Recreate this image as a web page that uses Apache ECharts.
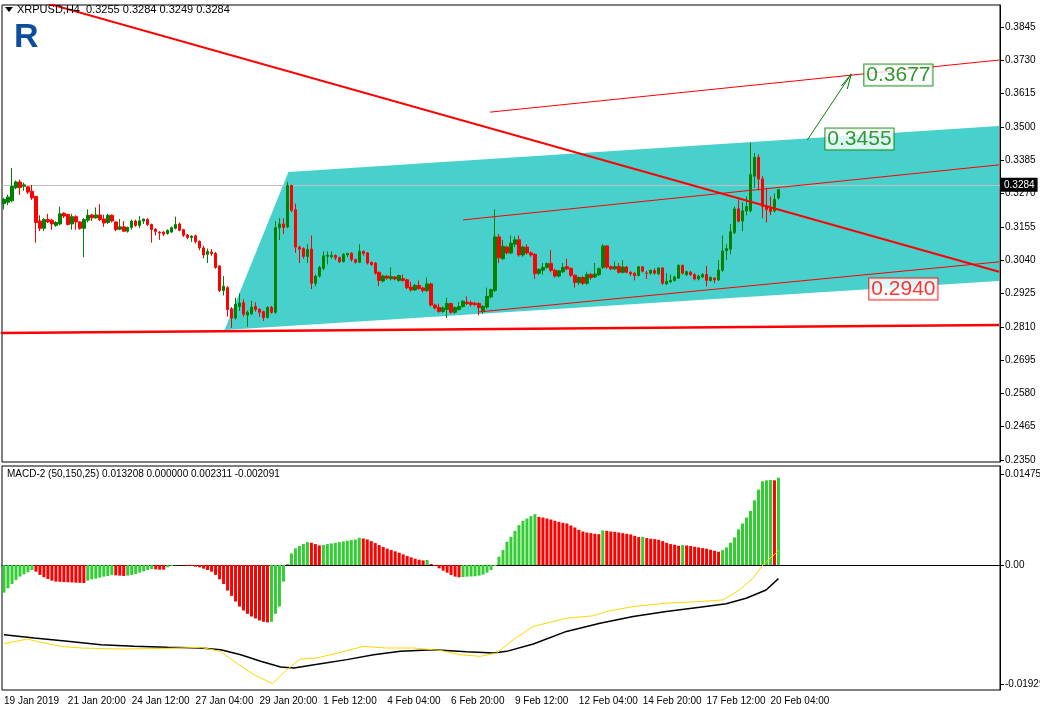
<!DOCTYPE html>
<html>
<head>
<meta charset="utf-8">
<script src="https://cdn.jsdelivr.net/npm/echarts@6/dist/echarts.min.js"></script>
<style>
  html, body { margin: 0; padding: 0; background: #fff; }
  #chart { width: 1040px; height: 716px; }
</style>
</head>
<body>
<div id="chart"></div>
<script>
// H4 candles, [open, close, low, high]
const candles = [
  [0.3235,0.3250,0.3215,0.3255],[0.3240,0.3258,0.3230,0.3266],[0.3245,0.3295,0.3240,0.3358],[0.3290,0.3310,0.3285,0.3315],
  [0.3310,0.3290,0.3265,0.3318],[0.3295,0.3300,0.3280,0.3308],[0.3293,0.3275,0.3268,0.3296],[0.3278,0.3255,0.3248,0.3300],
  [0.3260,0.3170,0.3100,0.3262],[0.3175,0.3150,0.3140,0.3195],[0.3150,0.3180,0.3140,0.3185],[0.3180,0.3172,0.3168,0.3200],
  [0.3178,0.3165,0.3145,0.3183],[0.3160,0.3170,0.3155,0.3175],[0.3165,0.3200,0.3160,0.3225],[0.3202,0.3192,0.3185,0.3205],
  [0.3198,0.3163,0.3160,0.3200],[0.3165,0.3190,0.3145,0.3200],[0.3190,0.3172,0.3145,0.3195],[0.3172,0.3150,0.3145,0.3175],
  [0.3150,0.3180,0.3050,0.3185],[0.3178,0.3195,0.3170,0.3215],[0.3196,0.3186,0.3175,0.3200],[0.3186,0.3196,0.3183,0.3222],
  [0.3196,0.3180,0.3175,0.3233],[0.3182,0.3168,0.3155,0.3197],[0.3170,0.3195,0.3165,0.3200],[0.3195,0.3175,0.3170,0.3198],
  [0.3172,0.3146,0.3140,0.3174],[0.3147,0.3155,0.3143,0.3182],[0.3155,0.3140,0.3138,0.3175],[0.3140,0.3153,0.3135,0.3156],
  [0.3153,0.3175,0.3145,0.3180],[0.3175,0.3160,0.3155,0.3180],[0.3160,0.3176,0.3150,0.3192],[0.3175,0.3182,0.3165,0.3183],
  [0.3180,0.3163,0.3158,0.3185],[0.3163,0.3146,0.3100,0.3166],[0.3147,0.3139,0.3125,0.3150],[0.3137,0.3134,0.3110,0.3140],
  [0.3137,0.3130,0.3123,0.3140],[0.3132,0.3143,0.3128,0.3146],[0.3137,0.3152,0.3134,0.3156],[0.3150,0.3163,0.3146,0.3190],
  [0.3165,0.3143,0.3140,0.3170],[0.3145,0.3126,0.3120,0.3148],[0.3127,0.3118,0.3112,0.3130],[0.3118,0.3123,0.3103,0.3126],
  [0.3124,0.3104,0.3098,0.3128],[0.3105,0.3083,0.3074,0.3108],[0.3082,0.3058,0.3046,0.3090],[0.3060,0.3070,0.3030,0.3080],
  [0.3068,0.3062,0.3055,0.3078],[0.3063,0.3015,0.3010,0.3068],[0.3020,0.2935,0.2930,0.3022],[0.2935,0.2950,0.2918,0.2985],
  [0.2945,0.2870,0.2845,0.2950],[0.2872,0.2840,0.2806,0.2878],[0.2840,0.2888,0.2835,0.2910],[0.2880,0.2892,0.2865,0.2925],
  [0.2893,0.2853,0.2845,0.2905],[0.2850,0.2860,0.2810,0.2866],[0.2855,0.2878,0.2850,0.2900],[0.2880,0.2870,0.2862,0.2895],
  [0.2870,0.2860,0.2845,0.2874],[0.2862,0.2842,0.2830,0.2866],[0.2842,0.2877,0.2838,0.2880],[0.2877,0.2860,0.2855,0.2882],
  [0.2860,0.3152,0.2855,0.3175],[0.3152,0.3165,0.3110,0.3185],[0.3165,0.3153,0.3130,0.3185],[0.3155,0.3298,0.3150,0.3310],
  [0.3298,0.3212,0.3205,0.3300],[0.3214,0.3085,0.3065,0.3235],[0.3085,0.3078,0.3030,0.3090],[0.3080,0.3053,0.3045,0.3084],
  [0.3053,0.3077,0.3030,0.3095],[0.3078,0.2960,0.2940,0.3125],[0.2960,0.2985,0.2950,0.2990],[0.2985,0.3015,0.2980,0.3020],
  [0.3012,0.3055,0.3005,0.3070],[0.3053,0.3057,0.3025,0.3070],[0.3052,0.3057,0.3045,0.3070],[0.3056,0.3048,0.3040,0.3060],
  [0.3048,0.3035,0.3030,0.3052],[0.3035,0.3060,0.3032,0.3064],[0.3058,0.3063,0.3050,0.3066],[0.3064,0.3042,0.3035,0.3067],
  [0.3042,0.3033,0.3028,0.3045],[0.3033,0.3070,0.3030,0.3095],[0.3070,0.3063,0.3055,0.3074],[0.3065,0.3030,0.3025,0.3068],
  [0.3032,0.3025,0.3020,0.3036],[0.3030,0.2995,0.2990,0.3033],[0.2998,0.2970,0.2950,0.3000],[0.2968,0.2985,0.2963,0.2990],
  [0.2985,0.2978,0.2972,0.2988],[0.2976,0.2983,0.2970,0.3015],[0.2982,0.2975,0.2970,0.2985],[0.2970,0.2987,0.2966,0.2990],
  [0.2976,0.2970,0.2966,0.2990],[0.2972,0.2945,0.2940,0.2975],[0.2947,0.2937,0.2932,0.2965],[0.2937,0.2953,0.2934,0.2958],
  [0.2953,0.2942,0.2938,0.2970],[0.2944,0.2935,0.2928,0.2948],[0.2935,0.2958,0.2930,0.2980],[0.2958,0.2885,0.2880,0.2962],
  [0.2885,0.2875,0.2870,0.2890],[0.2877,0.2863,0.2858,0.2890],[0.2863,0.2875,0.2858,0.2880],[0.2870,0.2890,0.2840,0.2910],
  [0.2890,0.2860,0.2855,0.2893],[0.2860,0.2876,0.2855,0.2880],[0.2870,0.2880,0.2866,0.2895],[0.2880,0.2898,0.2876,0.2902],
  [0.2895,0.2890,0.2885,0.2915],[0.2893,0.2887,0.2880,0.2900],[0.2891,0.2887,0.2882,0.2896],[0.2890,0.2876,0.2850,0.2895],
  [0.2862,0.2880,0.2855,0.2885],[0.2878,0.2915,0.2872,0.2945],[0.2913,0.2938,0.2908,0.2942],[0.2935,0.3120,0.2930,0.3215],
  [0.3120,0.3048,0.3030,0.3130],[0.3045,0.3088,0.3040,0.3110],[0.3085,0.3065,0.3060,0.3090],[0.3065,0.3098,0.3060,0.3125],
  [0.3095,0.3110,0.3085,0.3122],[0.3110,0.3058,0.3052,0.3125],[0.3058,0.3085,0.3052,0.3090],[0.3085,0.3065,0.3060,0.3095],
  [0.3065,0.3058,0.3052,0.3070],[0.3060,0.2993,0.2975,0.3063],[0.2995,0.3008,0.2988,0.3012],[0.3005,0.3015,0.2990,0.3030],
  [0.3015,0.3028,0.3010,0.3032],[0.3028,0.3005,0.2998,0.3075],[0.3005,0.2985,0.2980,0.3010],[0.2985,0.3003,0.2980,0.3006],
  [0.3000,0.3015,0.2996,0.3030],[0.3018,0.3010,0.3005,0.3045],[0.3012,0.2988,0.2982,0.3015],[0.2988,0.2963,0.2945,0.2990],
  [0.2962,0.2980,0.2955,0.2984],[0.2980,0.2960,0.2954,0.2985],[0.2960,0.2990,0.2955,0.3000],[0.2990,0.2980,0.2972,0.2996],
  [0.2982,0.2992,0.2978,0.3030],[0.2990,0.3010,0.2985,0.3015],[0.3015,0.3089,0.3010,0.3095],[0.3089,0.3016,0.3010,0.3092],
  [0.3017,0.3010,0.3005,0.3022],[0.3010,0.3018,0.3005,0.3035],[0.3018,0.2998,0.2994,0.3030],[0.2998,0.3016,0.2994,0.3040],
  [0.3016,0.2998,0.2994,0.3020],[0.2998,0.2993,0.2985,0.3002],[0.2995,0.2987,0.2970,0.2998],[0.2987,0.3017,0.2984,0.3020],
  [0.3017,0.3002,0.2998,0.3020],[0.2995,0.2995,0.2975,0.3003],[0.2995,0.3005,0.2990,0.3008],[0.3004,0.2995,0.2990,0.3012],
  [0.2993,0.3013,0.2988,0.3015],[0.3013,0.2960,0.2955,0.3016],[0.2958,0.2967,0.2954,0.2995],[0.2965,0.2970,0.2960,0.2990],
  [0.2970,0.2982,0.2966,0.2986],[0.2978,0.3022,0.2975,0.3025],[0.3022,0.2995,0.2990,0.3024],[0.2990,0.3000,0.2985,0.3004],
  [0.2998,0.2990,0.2986,0.3003],[0.2990,0.2975,0.2970,0.2995],[0.2975,0.2985,0.2970,0.2990],[0.2982,0.2990,0.2978,0.2995],
  [0.2990,0.2970,0.2950,0.3020],[0.2970,0.2980,0.2966,0.2984],[0.2978,0.2972,0.2960,0.2981],[0.2972,0.3005,0.2968,0.3040],
  [0.3005,0.3072,0.3000,0.3125],[0.3072,0.3080,0.3040,0.3095],[0.3078,0.3138,0.3060,0.3165],[0.3135,0.3217,0.3130,0.3225],
  [0.3217,0.3175,0.3170,0.3250],[0.3175,0.3210,0.3140,0.3240],[0.3210,0.3225,0.3195,0.3260],[0.3210,0.3335,0.3205,0.3445],
  [0.3330,0.3395,0.3290,0.3410],[0.3395,0.3320,0.3280,0.3405],[0.3320,0.3225,0.3185,0.3330],[0.3225,0.3215,0.3170,0.3290],
  [0.3222,0.3208,0.3195,0.3260],[0.3210,0.3250,0.3205,0.3270],[0.3255,0.3284,0.3249,0.3284]
];

// MACD histogram, in units of 0.0001
const macdHistE4 = [
  -44.7,-37.7,-30.7,-24.2,-18.8,-15.1,-11.8,-8.1,-10.8,-16.1,-19.9,-22.6,-25.3,-26.9,-27.3,-27.6,
  -27.9,-28.3,-28.6,-28.9,-29.2,-25.3,-23.1,-22.1,-20.4,-18.8,-17.8,-16.1,-16.7,-17.2,-17.8,-17.2,
  -16.1,-14.5,-12.4,-10.2,-8.1,-6.5,-7.0,-7.5,-7.6,-3.8,-1.6,-0.5,-0.3,-0.9,-1.0,-1.6,
  -2.7,-3.8,-5.9,-8.1,-10.8,-16.1,-23.1,-30.7,-41.4,-50.0,-59.2,-67.3,-73.7,-79.1,-83.4,-86.6,
  -89.8,-92.0,-93.0,-92.0,-79.1,-67.3,-26.9,1.6,18.8,26.9,30.7,33.9,37.1,36.0,33.9,31.7,
  32.3,33.9,35.0,36.0,37.1,38.2,39.3,40.4,41.4,44.1,43.0,41.4,38.7,35.5,32.3,29.1,
  26.4,24.2,22.1,19.9,17.2,14.5,12.4,10.2,8.6,7.5,8.1,1.6,-1.6,-5.4,-9.1,-12.4,
  -16.1,-18.8,-19.9,-19.4,-18.8,-18.6,-18.3,-17.2,-15.6,-12.4,-8.1,-1.6,13.5,24.2,37.7,45.7,
  55.4,64.6,71.6,75.3,79.1,82.3,78.0,76.9,75.3,73.7,71.6,69.9,68.3,67.3,64.0,60.8,
  57.0,54.3,52.7,51.6,50.6,50.0,56.0,55.4,54.3,53.8,52.7,51.6,50.6,49.5,47.3,45.2,
  45.7,43.6,42.5,41.9,40.9,38.7,36.0,33.9,32.8,31.2,32.3,31.7,30.7,29.6,28.5,27.4,
  26.4,24.7,23.1,21.5,24.2,28.5,36.0,44.7,57.6,67.3,76.9,87.7,104.9,122.1,135.6,137.2,
  137.7,137.2,141.5
];

// MACD lines read at sample candles: [candle index, value in 0.0001]
const macdMain = [
  [0,-113.0],[7.6,-118.4],[15.9,-123.7],[24.3,-129.1],[32.6,-131.8],[40.9,-133.4],[49.3,-134.5],[54.3,-137.2],
  [59.3,-145.3],[64.3,-156.0],[69.3,-165.2],[72.6,-166.8],[79.3,-159.8],[85.9,-153.3],[92.6,-145.3],[99.3,-139.9],
  [107.6,-137.2],[115.9,-140.4],[122.6,-142.6],[125.9,-139.9],[132.6,-128.0],[140.9,-107.6],[149.3,-94.2],[157.6,-83.4],
  [165.9,-75.3],[174.3,-68.3],[180.9,-62.9],[185.9,-53.8],[190.9,-40.4],[194,-22]
];
const macdSignal = [
  [0,-127.5],[5.9,-120.0],[9.25,-125.4],[14.25,-131.8],[19.25,-134.5],[29.25,-136.1],[40.9,-135.0],[49.25,-133.4],
  [54.25,-139.9],[57.6,-156.0],[62.6,-177.5],[67.25,-192.1],[70.9,-169.5],[74.25,-152.3],[78.4,-150.6],[84.25,-141.5],
  [90.1,-131.8],[95.9,-134.5],[102.6,-134.5],[109.25,-138.3],[114.25,-145.3],[119.25,-148.0],[123.4,-142.6],[127.6,-121.1],
  [132.6,-99.5],[140.9,-86.1],[147.6,-82.3],[150.9,-75.3],[157.6,-67.3],[165.9,-61.9],[174.25,-59.2],[180.1,-56.5],
  [184.25,-40.4],[187.6,-21.5],[190.1,0],[194,23.1]
];

const slotCount = 250;
const tickLabels = ['19 Jan 2019','21 Jan 20:00','24 Jan 12:00','27 Jan 04:00','29 Jan 20:00','1 Feb 12:00',
  '4 Feb 04:00','6 Feb 20:00','9 Feb 12:00','12 Feb 04:00','14 Feb 20:00','17 Feb 12:00','20 Feb 04:00'];
const priceTicks = [0.3845,0.3730,0.3615,0.3500,0.3385,0.3270,0.3155,0.3040,0.2925,0.2810,0.2695,0.2580,0.2465,0.2350];
const macdTicks = [0.014756, 0, -0.019294];
const macdTickText = ['0.014756', '0.00', '-0.01929'];
const lastPrice = 0.3284;

// drawn objects: [candle index, price]
const channel = [[55.25,0.2799],[71.25,0.3344],[249.25,0.3503],[249.25,0.2968]];
const downTrend = [[10.5,0.3928],[249.25,0.3000]];
const support = [[-0.75,0.2788],[249.25,0.2816]];
const upperLine = [[121.75,0.3551],[249.25,0.3731]];
const midLine = [[115,0.3179],[249.25,0.3369]];
const lowerLine = [[118.75,0.2861],[249.25,0.3034]];
const arrowLine = [[201.25,0.3455],[212.25,0.3683]];
const arrowHead = [[209.75,0.3641],[212.25,0.3683],[211.25,0.3631]];
const levelTags = [
  {value:[215.5,0.3679], name:'0.3677', color:'#008000'},
  {value:[205.75,0.3458], name:'0.3455', color:'#008000'},
  {value:[216.75,0.2940], name:'0.2940', color:'#ff0000'}
];

const categories = [];
for (let i = 0; i < slotCount; i++) categories.push(i % 16 === 0 && tickLabels[i / 16] ? tickLabels[i / 16] : '');

const histData = macdHistE4.map((v, i) => ({
  value: v / 10000,
  itemStyle: { color: i === 0 || v >= macdHistE4[i - 1] ? '#32cd32' : '#ff0000' }
}));
const toE4 = arr => arr.map(p => [p[0], p[1] / 10000]);

const font = 'Liberation Sans, Arial, sans-serif';
const redLine = (data, width) => ({
  type: 'line', xAxisIndex: 1, yAxisIndex: 0, data, symbol: 'none', z: 4, silent: true,
  lineStyle: { color: '#ff0000', width }
});

const chart = echarts.init(document.getElementById('chart'));
chart.setOption({
  animation: false,
  backgroundColor: '#fff',
  grid: [
    { left: 2, right: 40, top: 5, height: 457, show: true, borderColor: '#000', borderWidth: 1, outerBoundsMode: 'none' },
    { left: 2, right: 40, top: 466, bottom: 26, show: true, borderColor: '#000', borderWidth: 1, outerBoundsMode: 'none' }
  ],
  xAxis: [
    { type: 'category', gridIndex: 0, data: categories, axisLine: { show: false }, axisTick: { show: false }, axisLabel: { show: false } },
    { type: 'value', gridIndex: 0, min: -0.5, max: slotCount - 0.5, show: false },
    { type: 'category', gridIndex: 1, data: categories, axisLine: { lineStyle: { color: '#000' } },
      axisTick: { alignWithLabel: true, interval: i => i % 16 === 0, length: 4, lineStyle: { color: '#000' } },
      axisLabel: { interval: 0, align: 'left', margin: 6, color: '#000', fontSize: 10, fontFamily: font } },
    { type: 'value', gridIndex: 1, min: -0.5, max: slotCount - 0.5, show: false }
  ],
  yAxis: [
    { type: 'value', gridIndex: 0, position: 'right', min: 0.2343, max: 0.3921, splitLine: { show: false },
      axisLine: { show: true, onZero: false, lineStyle: { color: '#000' } },
      axisTick: { show: true, customValues: priceTicks, length: 4, lineStyle: { color: '#000' } },
      axisLabel: { customValues: priceTicks, formatter: v => v.toFixed(4), color: '#000', fontSize: 10, fontFamily: font, margin: 5 } },
    { type: 'value', gridIndex: 1, position: 'right', min: -0.02025, max: 0.01604, splitLine: { show: false },
      axisLine: { show: true, onZero: false, lineStyle: { color: '#000' } },
      axisTick: { show: true, customValues: macdTicks, length: 4, lineStyle: { color: '#000' } },
      axisLabel: { customValues: macdTicks, formatter: v => macdTickText[macdTicks.findIndex(t => Math.abs(t - v) < 1e-7)] || '',
        color: '#000', fontSize: 10, fontFamily: font, margin: 5 } }
  ],
  graphic: [
    { type: 'polygon', shape: { points: [[5, 7], [13, 7], [9, 12]] }, style: { fill: '#000' }, z: 10 },
    { type: 'text', left: 17, top: 4, z: 10, style: { text: 'XRPUSD,H4  0.3255 0.3284 0.3249 0.3284', fill: '#000', font: '11px ' + font } },
    { type: 'text', left: 14, top: 21, z: 10, style: { text: 'R', fill: '#0d4e9c', font: 'bold 34px ' + font } },
    { type: 'text', left: 7, top: 469, z: 10, style: { text: 'MACD-2 (50,150,25) 0.013208 0.000000 0.002311 -0.002091', fill: '#000', font: '10px ' + font } }
  ],
  series: [
    { type: 'custom', xAxisIndex: 1, yAxisIndex: 0, data: [0], z: 1, silent: true,
      renderItem: (params, api) => ({ type: 'polygon', shape: { points: channel.map(p => api.coord(p)) }, style: { fill: '#48d1cc' } }) },
    { type: 'candlestick', xAxisIndex: 0, yAxisIndex: 0, data: candles, barWidth: 3, z: 3,
      itemStyle: { color: '#008000', color0: '#ff0000', borderColor: '#008000', borderColor0: '#ff0000', borderWidth: 1 },
      markLine: { symbol: 'none', silent: true, z: 2, lineStyle: { color: '#c0c0c0', type: 'solid', width: 1 },
        label: { position: 'end', formatter: lastPrice.toFixed(4), backgroundColor: '#000', color: '#fff', padding: [2, 3], fontSize: 10, fontFamily: font, distance: 1 },
        data: [{ yAxis: lastPrice }] } },
    redLine(downTrend, 2),
    redLine(support, 2.5),
    redLine(upperLine, 1),
    redLine(midLine, 1),
    redLine(lowerLine, 1),
    { type: 'line', xAxisIndex: 1, yAxisIndex: 0, data: arrowLine, symbol: 'none', z: 4, lineStyle: { color: '#008000', width: 1 } },
    { type: 'line', xAxisIndex: 1, yAxisIndex: 0, data: arrowHead, symbol: 'none', z: 4, lineStyle: { color: '#008000', width: 1 } },
    { type: 'scatter', xAxisIndex: 1, yAxisIndex: 0, symbolSize: 0, z: 6,
      data: levelTags.map(t => ({ value: t.value, name: t.name,
        label: { color: t.color, borderColor: t.color } })),
      label: { show: true, position: 'right', distance: 0, formatter: p => p.name, fontSize: 21, fontFamily: font,
        backgroundColor: '#fff', borderWidth: 1, padding: [0, 2] } },
    { type: 'bar', xAxisIndex: 2, yAxisIndex: 1, data: histData, barWidth: 3, z: 2 },
    { type: 'line', xAxisIndex: 3, yAxisIndex: 1, data: toE4(macdMain), symbol: 'none', z: 3, lineStyle: { color: '#000', width: 1.5 } },
    { type: 'line', xAxisIndex: 3, yAxisIndex: 1, data: toE4(macdSignal), symbol: 'none', z: 3, lineStyle: { color: '#ffd700', width: 1 } }
  ]
});
</script>
</body>
</html>
